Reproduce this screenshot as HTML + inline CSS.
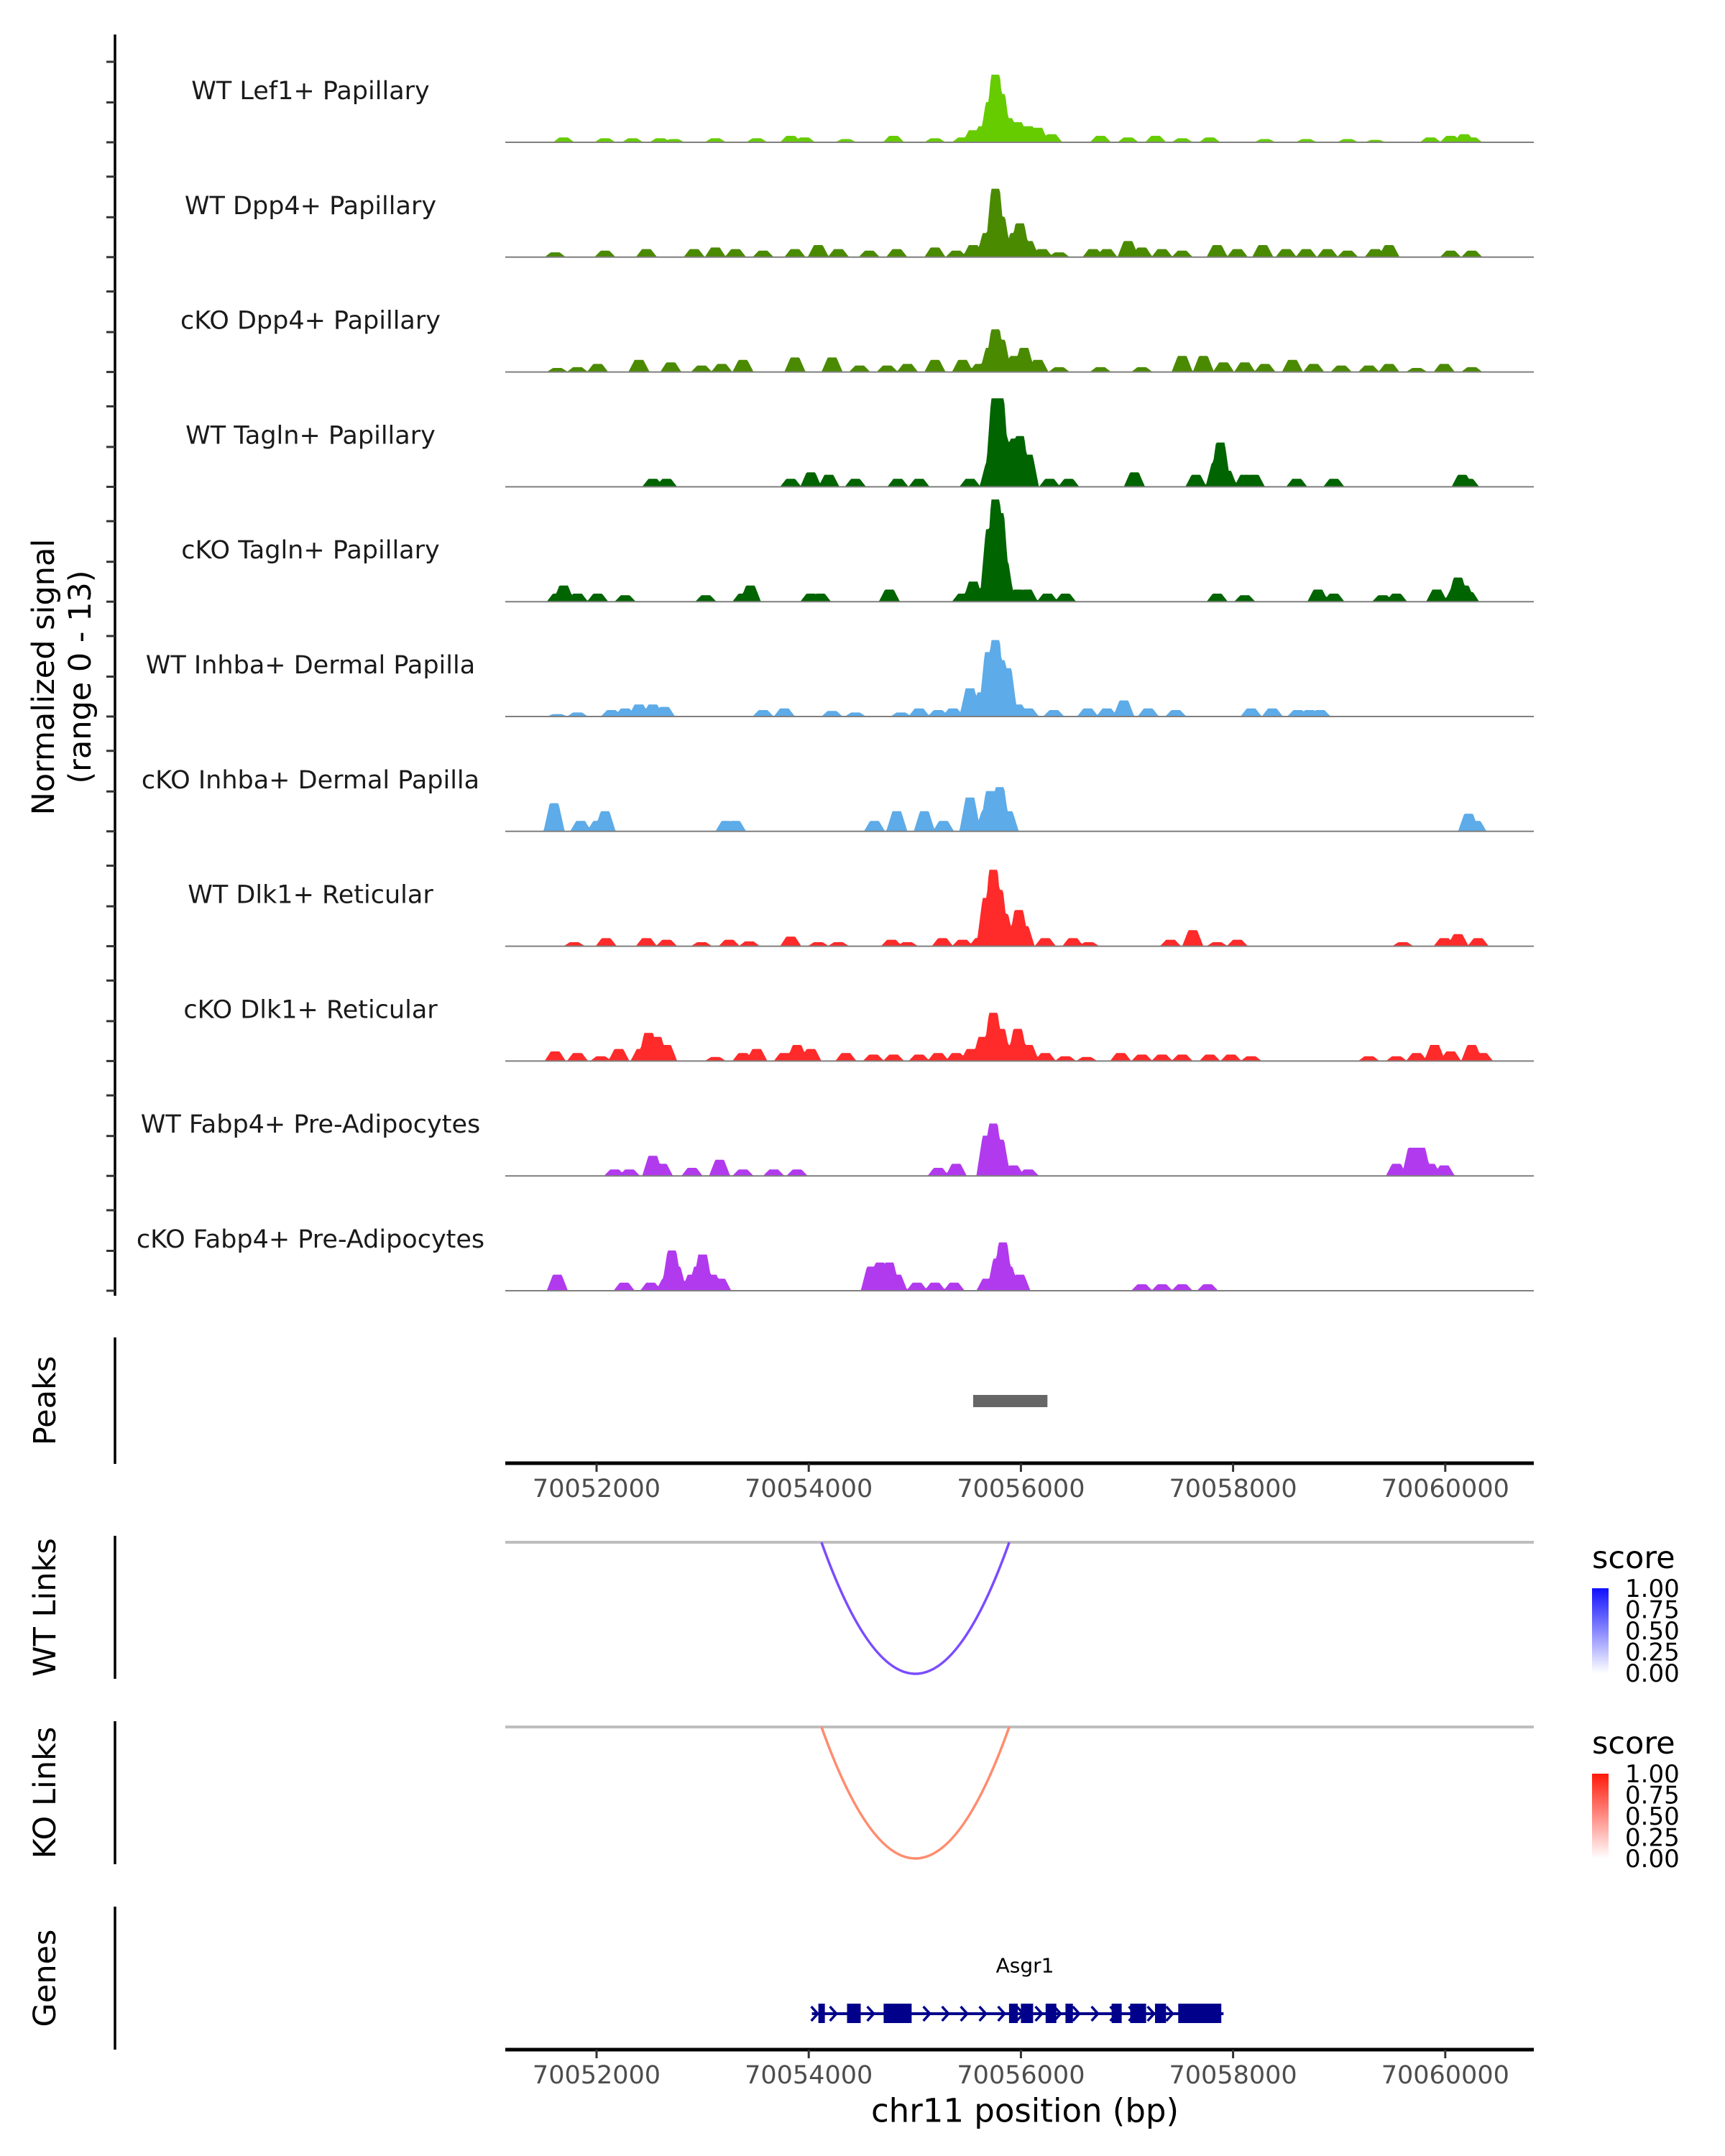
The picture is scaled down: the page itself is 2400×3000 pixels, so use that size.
<!DOCTYPE html>
<html><head><meta charset="utf-8"><style>
html,body{margin:0;padding:0;background:#fff;}
svg{display:block;font-family:"DejaVu Sans","Liberation Sans",sans-serif;}
</style></head><body>
<svg id="chart" width="2400" height="3000" viewBox="0 0 2400 3000" xmlns="http://www.w3.org/2000/svg">
<rect x="0" y="0" width="2400" height="3000" fill="#fff"/>
<g id="tracks"></g>
<g id="lower"></g>
</svg>
<script>
const trackNames = ["WT Lef1+ Papillary","WT Dpp4+ Papillary","cKO Dpp4+ Papillary","WT Tagln+ Papillary","cKO Tagln+ Papillary","WT Inhba+ Dermal Papilla","cKO Inhba+ Dermal Papilla","WT Dlk1+ Reticular","cKO Dlk1+ Reticular","WT Fabp4+ Pre-Adipocytes","cKO Fabp4+ Pre-Adipocytes"];
const trackColors = ["#66cc00","#4a8a00","#4a8a00","#006400","#006400","#5dabe8","#5dabe8","#ff2a2a","#ff2a2a","#b23aee","#b23aee"];
// bump positions (kb) and heights (normalized signal, 0-13)
const lef1Pos=[70051.69,70052.08,70052.34,70052.60,70052.73,70053.12,70053.51,70053.83,70053.96,70054.35,70054.80,70055.19,70055.45,70055.55,70055.64,70055.71,70055.76,70055.81,70055.88,70055.97,70056.07,70056.16,70056.29,70056.75,70057.01,70057.27,70057.52,70057.78,70058.30,70058.69,70059.08,70059.34,70059.86,70060.05,70060.18,70060.25];
const lef1Val=[0.6,0.5,0.5,0.5,0.4,0.5,0.5,0.8,0.6,0.4,0.8,0.5,0.6,1.5,2,5,8.4,6,3,2.5,2,1.8,1,0.8,0.6,0.8,0.5,0.6,0.4,0.4,0.4,0.3,0.6,0.8,1,0.6];
const wtDpp4Pos=[70051.61,70052.08,70052.47,70052.92,70053.12,70053.31,70053.57,70053.87,70054.09,70054.28,70054.57,70054.83,70055.19,70055.39,70055.55,70055.68,70055.76,70055.81,70055.94,70055.99,70056.07,70056.20,70056.36,70056.68,70056.81,70057.01,70057.14,70057.33,70057.52,70057.85,70058.04,70058.28,70058.50,70058.69,70058.89,70059.08,70059.34,70059.47,70060.05,70060.25];
const wtDpp4Val=[0.6,0.8,1,1,1.2,1,0.8,1,1.5,1,0.8,1,1.2,0.8,1.5,3,8.5,5,3,4.2,2,1,0.6,1,1,2,1.2,1,0.8,1.5,1,1.5,1,1,1,0.8,1,1.5,0.8,0.8];
const koDpp4Pos=[70051.63,70051.82,70052.01,70052.40,70052.70,70052.99,70053.18,70053.38,70053.87,70054.22,70054.48,70054.74,70054.93,70055.19,70055.45,70055.61,70055.71,70055.76,70055.81,70055.94,70056.03,70056.16,70056.36,70056.75,70057.14,70057.52,70057.72,70057.91,70058.11,70058.30,70058.56,70058.76,70059.02,70059.28,70059.47,70059.73,70059.99,70060.25];
const koDpp4Val=[0.5,0.6,1,1.5,1.2,0.8,1,1.5,1.8,1.8,0.8,0.8,1,1.5,1.5,1,3,5.3,4,2,3,1.5,0.6,0.6,0.6,2,2,1.2,1.2,1,1.5,1,0.8,0.8,1,0.5,1,0.6];
const wtTaglnPos=[70052.53,70052.66,70053.83,70054.02,70054.19,70054.44,70054.84,70055.04,70055.52,70055.71,70055.76,70055.80,70055.84,70055.94,70055.99,70056.07,70056.27,70056.45,70057.07,70057.65,70057.84,70057.88,70057.94,70058.11,70058.20,70058.60,70058.95,70060.16,70060.22];
const wtTaglnVal=[1,1,1,1.8,1.5,1,1,1,1,3,11,11,6,6,6.3,4,1,1,1.8,1.5,3,5.5,2,1.5,1.5,1,1,1.5,1];
const koTaglnPos=[70051.63,70051.69,70051.82,70052.01,70052.27,70053.03,70053.38,70053.45,70054.02,70054.11,70054.76,70055.45,70055.55,70055.67,70055.71,70055.76,70055.80,70055.84,70055.97,70056.06,70056.25,70056.42,70057.85,70058.11,70058.80,70058.95,70059.41,70059.54,70059.92,70060.09,70060.12,70060.18,70060.22];
const koTaglnVal=[1,2,1,1,0.8,0.8,1,2,1,1,1.5,1,2.5,2,9,12.7,11,5,1.5,1.5,1,1,1,0.8,1.5,1,0.8,1,1.5,1.5,3,2,1.2];
const wtInhbaPos=[70051.63,70051.82,70052.14,70052.27,70052.40,70052.53,70052.64,70053.57,70053.77,70054.22,70054.44,70054.87,70055.04,70055.22,70055.36,70055.52,70055.63,70055.70,70055.76,70055.81,70055.87,70055.97,70056.07,70056.31,70056.63,70056.81,70056.97,70057.20,70057.46,70058.17,70058.37,70058.61,70058.72,70058.82];
const wtInhbaVal=[0.3,0.5,0.8,1,1.5,1.5,1.2,0.8,1,0.7,0.5,0.5,1,0.8,1,3.5,3,8,9.5,7,6,1.5,1,0.8,1,1,2,1,0.8,1,1,0.8,0.8,0.8];
const koInhbaPos=[70051.60,70051.85,70052.01,70052.08,70053.22,70053.31,70054.62,70054.83,70055.09,70055.27,70055.52,70055.67,70055.71,70055.80,70055.88,70060.22,70060.29];
const koInhbaVal=[3.5,1.3,1.3,2.5,1.3,1.3,1.3,2.5,2.5,1.3,4.2,2.5,5,5.5,2.5,2.2,1.3];
const wtDlk1Pos=[70051.79,70052.09,70052.47,70052.66,70052.99,70053.25,70053.44,70053.83,70054.09,70054.28,70054.78,70054.93,70055.26,70055.45,70055.61,70055.68,70055.74,70055.79,70055.84,70055.93,70055.98,70056.03,70056.23,70056.49,70056.64,70057.41,70057.62,70057.85,70058.04,70059.60,70059.99,70060.12,70060.31];
const wtDlk1Val=[0.5,1,1,0.8,0.5,0.8,0.6,1.2,0.5,0.5,0.8,0.5,1,0.8,1,6,9.5,7,4,2.5,4.5,2.5,1,1,0.5,0.8,2,0.5,0.8,0.5,1,1.5,1];
const koDlk1Pos=[70051.61,70051.82,70052.04,70052.21,70052.42,70052.49,70052.57,70052.66,70053.12,70053.38,70053.51,70053.77,70053.89,70054.02,70054.35,70054.61,70054.80,70055.04,70055.22,70055.39,70055.53,70055.64,70055.74,70055.81,70055.88,70055.97,70056.07,70056.23,70056.42,70056.62,70056.94,70057.14,70057.33,70057.52,70057.78,70057.98,70058.17,70059.28,70059.54,70059.73,70059.90,70060.05,70060.25,70060.35];
const koDlk1Val=[1.2,1,0.6,1.5,1.5,3.5,3,2,0.5,1,1.5,1,2,1.5,1,0.8,0.8,0.8,1,1,1.5,3,6,4,2,4,2,1,0.6,0.5,1,0.8,0.8,0.8,0.8,0.8,0.6,0.6,0.6,1,2,1.2,2,1];
const wtFabp4Pos=[70052.17,70052.31,70052.53,70052.62,70052.90,70053.16,70053.38,70053.67,70053.89,70055.22,70055.39,70055.68,70055.74,70055.80,70055.93,70056.07,70059.54,70059.69,70059.77,70059.86,70059.99];
const wtFabp4Val=[0.8,0.8,2.5,1.5,1,2,0.8,0.8,0.8,1,1.5,5,6.5,4.5,1.3,0.8,1.5,3.5,3.5,1.5,1.3];
const koFabp4Pos=[70051.63,70052.26,70052.51,70052.66,70052.71,70052.75,70052.90,70052.96,70053.00,70053.09,70053.17,70054.59,70054.67,70054.76,70054.83,70055.02,70055.19,70055.37,70055.68,70055.78,70055.83,70055.88,70055.99,70057.14,70057.33,70057.52,70057.76];
const koFabp4Val=[2,1,1,1.5,5,3,2,3,4.5,2,1.5,3,3.5,3.5,2,1,1,1,1.5,4,6,3,2,0.8,0.8,0.8,0.8];
const trackPos=[lef1Pos,wtDpp4Pos,koDpp4Pos,wtTaglnPos,koTaglnPos,wtInhbaPos,koInhbaPos,wtDlk1Pos,koDlk1Pos,wtFabp4Pos,koFabp4Pos];
const trackVal=[lef1Val,wtDpp4Val,koDpp4Val,wtTaglnVal,koTaglnVal,wtInhbaVal,koInhbaVal,wtDlk1Val,koDlk1Val,wtFabp4Val,koFabp4Val];
const xTicks=[70052000,70054000,70056000,70058000,70060000];
const peakStart=[70055550]; const peakEnd=[70056250];
const wtLinkStart=[70054120]; const wtLinkEnd=[70055890]; const wtLinkScore=[0.7];
const koLinkStart=[70054120]; const koLinkEnd=[70055890]; const koLinkScore=[0.5];
const geneStart=70054030, geneEnd=70057910;
const exonStart=[70054091,70054361,70054706,70055888,70056000,70056233,70056420,70056855,70057030,70057264,70057483];
const exonEnd=[70054152,70054490,70054970,70055970,70056115,70056334,70056490,70056950,70057180,70057368,70057889];
const legendTicks=["1.00","0.75","0.50","0.25","0.00"];

const NS="http://www.w3.org/2000/svg";
const X0=703,X1=2134;
const PXKB=147.6;
function xs(bp){return 830+(bp-70052000)*PXKB/1000;}
const BASE0=198,STEP=159.8,PXU=11.2;
function el(tag,attrs,parent,text){const e=document.createElementNS(NS,tag);for(const k in attrs)e.setAttribute(k,attrs[k]);if(text!==undefined)e.textContent=text;parent.appendChild(e);return e;}
const tg=document.getElementById('tracks');
const lg=document.getElementById('lower');

let ax=el('line',{x1:160,y1:48,x2:160,y2:1803,stroke:'#000','stroke-width':3.5},tg);


for(let i=0;i<11;i++){
  const b=BASE0+STEP*i;
  for(const off of [0,55.5,112]){
    const t=el('line',{x1:148,y1:b-off,x2:160,y2:b-off,stroke:'#333','stroke-width':3},tg);
    
    
  }
  const pos=trackPos[i],val=trackVal[i],W=0.1;
  let d='M'+X0+' '+b;
  for(let px=X0;px<=X1;px+=1.5){
    const kb=70052+(px-830)/PXKB;
    let v=0;
    for(let j=0;j<pos.length;j++){const dd=Math.abs(kb-pos[j])/W;if(dd<1){const s=Math.min(1,1.7*(1-dd));v=Math.max(v,val[j]*s);}}
    d+=' L'+px.toFixed(1)+' '+(b-v*PXU).toFixed(1);
  }
  d+=' L'+X1+' '+b+' Z';
  const a=el('path',{d:d,fill:trackColors[i]},tg);
  
  
  const bl=el('line',{x1:X0,y1:b,x2:X1,y2:b,stroke:'#7f7f7f','stroke-width':2},tg);
  
  
  const lb=el('text',{x:432,y:b-71,'text-anchor':'middle','dominant-baseline':'central','font-size':35,fill:'#1a1a1a'},tg,trackNames[i]);
  
  
}
let yt=el('text',{transform:'translate(75,942) rotate(-90)','text-anchor':'middle','font-size':43,fill:'#000'},tg,'Normalized signal');


let yt2=el('text',{transform:'translate(126,942) rotate(-90)','text-anchor':'middle','font-size':43,fill:'#000'},tg,'(range 0 - 13)');



function sideLabel(txt,y0,y1,name){
  const l=el('line',{x1:160,y1:y0,x2:160,y2:y1,stroke:'#000','stroke-width':3.5},lg);
  
  
  const t=el('text',{transform:'translate(77,'+((y0+y1)/2)+') rotate(-90)','text-anchor':'middle','font-size':43,fill:'#000'},lg,txt);
  
  
}
function xAxis(y,name){
  const l=el('line',{x1:X0,y1:y,x2:X1,y2:y,stroke:'#000','stroke-width':5},lg);
  
  
  for(const t of xTicks){
    const tk=el('line',{x1:xs(t),y1:y,x2:xs(t),y2:y+12,stroke:'#333','stroke-width':3},lg);
    
    
    const tl=el('text',{x:xs(t),y:y+36,'text-anchor':'middle','dominant-baseline':'central','font-size':35,fill:'#4d4d4d'},lg,String(t));
    
    
  }
}
sideLabel('Peaks',1861,2037,'peaks');
for(let i=0;i<peakStart.length;i++){
  const r=el('rect',{x:xs(peakStart[i]),y:1941,width:xs(peakEnd[i])-xs(peakStart[i]),height:17,fill:'#666'},lg);
  
  
}
xAxis(2036,'x-axis-top');

function links(lineY,bottomY,starts,ends,scores,colFn,name,y0,y1,legY,gradId,topCol){
  sideLabel(name==='wt'?'WT Links':'KO Links',y0,y1,name+'-links');
  const gl=el('line',{x1:X0,y1:lineY,x2:X1,y2:lineY,stroke:'#bebebe','stroke-width':4},lg);
  
  
  for(let i=0;i<starts.length;i++){
    const a=xs(starts[i]),b=xs(ends[i]),depth=bottomY-lineY;
    const p=el('path',{d:'M'+a+' '+lineY+' Q'+((a+b)/2)+' '+(lineY+2*depth)+' '+b+' '+lineY,fill:'none',stroke:colFn(scores[i]),'stroke-width':3.5},lg);
    
    
  }
  const defs=el('defs',{},lg);
  const g=el('linearGradient',{id:gradId,x1:0,y1:0,x2:0,y2:1},defs);
  el('stop',{offset:'0','stop-color':topCol},g);
  el('stop',{offset:'1','stop-color':'#fff'},g);
  const st=el('text',{x:2215,y:legY,'dominant-baseline':'central','font-size':43,fill:'#000'},lg,'score');
  
  
  const cb=el('rect',{x:2215,y:legY+42,width:23,height:118,fill:'url(#'+gradId+')'},lg);
  
  
  legendTicks.forEach((t,k)=>{
    const ty=legY+43+k*29.5;
    const tl=el('text',{x:2261,y:ty,'dominant-baseline':'central','font-size':34,fill:'#000'},lg,t);
    
    
  });
}
links(2146,2329,wtLinkStart,wtLinkEnd,wtLinkScore,s=>'#7a4cff','wt',2137,2336,2168,'gWT','#1010ff');
links(2403,2586,koLinkStart,koLinkEnd,koLinkScore,s=>'#ff8c6e','ko',2395,2594,2426,'gKO','#ff1a0a');

sideLabel('Genes',2653,2852,'genes');
let gn=el('text',{x:1426,y:2735,'text-anchor':'middle','dominant-baseline':'central','font-size':28,fill:'#000'},lg,'Asgr1');


let gline=el('line',{x1:xs(geneStart),y1:2802,x2:xs(geneEnd),y2:2802,stroke:'#00008b','stroke-width':4},lg);


for(let px=xs(geneStart)+4;px<xs(geneEnd);px+=26){
  const c=el('path',{d:'M'+(px-5)+' 2792 L'+(px+4)+' 2802 L'+(px-5)+' 2812',fill:'none',stroke:'#00008b','stroke-width':3.5},lg);
  
  
}
for(let i=0;i<exonStart.length;i++){
  const r=el('rect',{x:xs(exonStart[i]),y:2788,width:xs(exonEnd[i])-xs(exonStart[i]),height:27,fill:'#00008b'},lg);
  
  
}
xAxis(2852,'x-axis-bottom');
let xt=el('text',{x:1426,y:2937,'text-anchor':'middle','dominant-baseline':'central','font-size':45,fill:'#000'},lg,'chr11 position (bp)');


</script>
</body></html>
